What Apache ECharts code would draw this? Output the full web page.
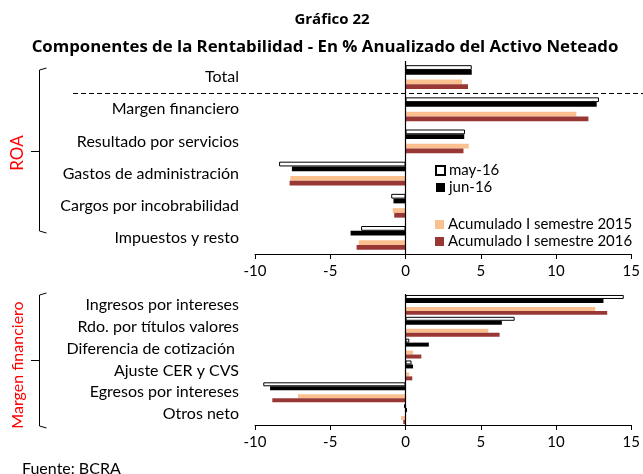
<!DOCTYPE html>
<html>
<head>
<meta charset="utf-8">
<title>Gráfico 22</title>
<script src="https://cdn.jsdelivr.net/npm/echarts@6/dist/echarts.min.js"></script>
<style>
  html, body { margin: 0; padding: 0; background: #fff; }
  #chart { width: 643px; height: 474px; }
</style>
</head>
<body>
<div id="chart"></div>
<script>
// categorias
var catsRoa = ['Total', 'Margen financiero', 'Resultado por servicios', 'Gastos de administración', 'Cargos por incobrabilidad', 'Impuestos y resto'];
var catsMf = ['Ingresos por intereses', 'Rdo. por títulos valores', 'Diferencia de cotización ', 'Ajuste CER y CVS', 'Egresos por intereses', 'Otros neto'];

// ROA - % anualizado del activo neteado
var roaMay16 = [4.4, 12.85, 3.95, -8.4, -0.95, -2.95];
var roaJun16 = [4.4, 12.7, 3.9, -7.55, -0.8, -3.65];
var roa2015 = [3.75, 11.35, 4.2, -7.65, -0.85, -3.1];
var roa2016 = [4.15, 12.15, 3.85, -7.7, -0.75, -3.25];

// Margen financiero
var mfMay16 = [14.5, 7.25, 0.25, 0.4, -9.45, -0.1];
var mfJun16 = [13.15, 6.4, 1.55, 0.5, -9.0, 0.1];
var mf2015 = [12.6, 5.5, 0.5, 0.25, -7.15, -0.3];
var mf2016 = [13.4, 6.25, 1.05, 0.45, -8.85, -0.15];

var xTicks = { min: -10, max: 15, interval: 5 };
var vacio = [null, null, null, null, null, null];

var fuente = 'Lato, "DejaVu Sans", sans-serif';
var fuenteTit = '"Open Sans", Lato, sans-serif';
var colMay = '#ffffff', colJun = '#000000', col2015 = '#FAC08F', col2016 = '#993734';

var myChart = echarts.init(document.getElementById('chart'));

function series(idx, may, jun, a15, a16, catGap) {
    var base = { type: 'bar', xAxisIndex: idx, yAxisIndex: idx, barGap: '0%', barCategoryGap: catGap, silent: true };
    return [
        Object.assign({}, base, { name: 'may-16', data: may, itemStyle: { color: colMay, borderColor: '#000', borderWidth: 1 },
            markLine: { silent: true, symbol: 'none', label: { show: false }, lineStyle: { color: '#000', type: 'solid', width: 1.2 }, data: [{ xAxis: 0 }] } }),
        Object.assign({}, base, { name: 'jun-16', data: jun, itemStyle: { color: colJun } }),
        Object.assign({}, base, { name: '_', data: vacio }),
        Object.assign({}, base, { name: 'Acumulado I semestre 2015', data: a15, itemStyle: { color: col2015 } }),
        Object.assign({}, base, { name: 'Acumulado I semestre 2016', data: a16, itemStyle: { color: col2016 } })
    ];
}

function ejeX(idx) {
    return {
        type: 'value', gridIndex: idx, min: xTicks.min, max: xTicks.max, interval: xTicks.interval,
        axisLine: { show: true, onZero: false, lineStyle: { color: '#000', width: 1 } },
        axisTick: { show: true, length: 5, lineStyle: { color: '#000' } },
        axisLabel: { color: '#000', fontSize: 15, fontFamily: fuente, margin: 10 },
        splitLine: { show: false }
    };
}

function ejeY(idx, cats) {
    return {
        type: 'category', gridIndex: idx, data: cats, inverse: true,
        axisLine: { show: false }, axisTick: { show: false },
        axisLabel: { color: '#000', fontSize: 16, fontFamily: fuente, margin: 16 }
    };
}

myChart.setOption({
    animation: false,
    textStyle: { fontFamily: fuente },
    title: [
        { text: 'Fuente: BCRA', left: 17, top: 456, textStyle: { fontSize: 16, fontWeight: 'normal', color: '#000', fontFamily: fuente } }
    ],
    legend: [
        { data: ['may-16', 'jun-16'], orient: 'vertical', left: 430, top: 158, itemWidth: 9, itemHeight: 9, itemGap: 2,
          icon: 'rect', selectedMode: false, textStyle: { fontSize: 15, color: '#000', fontFamily: fuente, padding: [0, 0, 0, -1] } },
        { data: ['Acumulado I semestre 2015', 'Acumulado I semestre 2016'], orient: 'vertical', left: 430, top: 212, itemWidth: 9, itemHeight: 9, itemGap: 2,
          icon: 'rect', selectedMode: false, textStyle: { fontSize: 15, color: '#000', fontFamily: fuente, padding: [0, 0, 0, -1] } }
    ],
    grid: [
        { left: 255, right: 10, top: 61, height: 193 },
        { left: 255, right: 10, top: 294, height: 131 }
    ],
    xAxis: [ejeX(0), ejeX(1)],
    yAxis: [ejeY(0, catsRoa), ejeY(1, catsMf)],
    series: series(0, roaMay16, roaJun16, roa2015, roa2016, '26%')
        .concat(series(1, mfMay16, mfJun16, mf2015, mf2016, '9%'))
});

// linea punteada entre Total y el resto, llaves, titulos y rotulos laterales
var y0 = myChart.convertToPixel({ yAxisIndex: 0 }, catsRoa[0]);
var y1 = myChart.convertToPixel({ yAxisIndex: 0 }, catsRoa[1]);
var yDash = Math.round((y0 + y1) / 2) + 0.5;

function llave(xl, ytop, ybot) {
    return {
        type: 'polyline', silent: true,
        shape: { points: [[xl + 7, ytop], [xl, ytop + 2], [xl, ybot - 2], [xl + 7, ybot]] },
        style: { stroke: '#000', lineWidth: 1, fill: null }
    };
}

myChart.setOption({
    graphic: [
        { type: 'text', silent: true, x: 332, y: 20,
          style: { text: 'Gráfico 22', fill: '#000', fontSize: 15, fontWeight: 'bold', fontFamily: fuenteTit, align: 'center', verticalAlign: 'middle' } },
        { type: 'text', silent: true, x: 325, y: 47,
          style: { text: 'Componentes de la Rentabilidad - En % Anualizado del Activo Neteado', fill: '#000', fontSize: 16.8, fontWeight: 'bold', fontFamily: fuenteTit, align: 'center', verticalAlign: 'middle' } },
        { type: 'line', silent: true, shape: { x1: 73, y1: yDash, x2: 643, y2: yDash }, style: { stroke: '#000', lineWidth: 1.2, lineDash: [5, 3] } },
        llave(39.5, 68, 233),
        { type: 'line', silent: true, shape: { x1: 31, y1: 151.5, x2: 39.5, y2: 151.5 }, style: { stroke: '#000', lineWidth: 1 } },
        llave(39.5, 293, 428),
        { type: 'line', silent: true, shape: { x1: 31, y1: 360.5, x2: 39.5, y2: 360.5 }, style: { stroke: '#000', lineWidth: 1 } },
        { type: 'text', silent: true, x: 18, y: 153, rotation: Math.PI / 2,
          style: { text: 'ROA', fill: '#ff0000', fontSize: 17, fontFamily: fuente, align: 'center', verticalAlign: 'middle' } },
        { type: 'text', silent: true, x: 18, y: 365, rotation: Math.PI / 2,
          style: { text: 'Margen financiero', fill: '#ff0000', fontSize: 16, fontFamily: fuente, align: 'center', verticalAlign: 'middle' } }
    ]
});
</script>
</body>
</html>
